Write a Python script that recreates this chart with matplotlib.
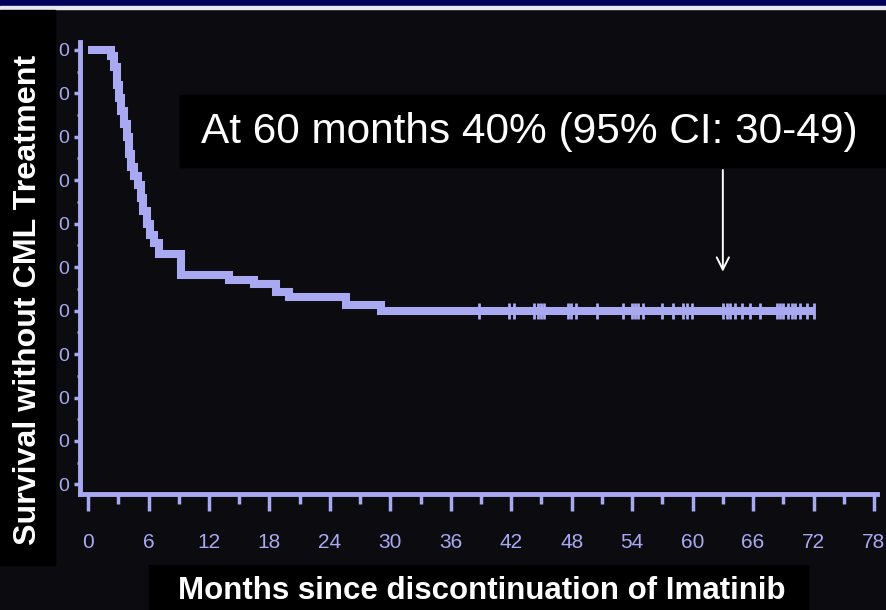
import matplotlib
matplotlib.use("Agg")
import matplotlib.pyplot as plt
from matplotlib.patches import Rectangle

# Kaplan-Meier step curve (months, % surviving without treatment)
months = [0, 2.3, 2.6, 2.9, 3.1, 3.3, 3.6, 3.9, 4.1, 4.3, 4.6, 5.0, 5.3, 5.5,
          5.8, 6.1, 6.5, 7.0, 9.2, 14.0, 16.5, 18.7, 19.9, 25.6, 29.1, 72.0]
survival = [100, 98.5, 96, 92, 89, 86, 83, 80, 76, 73, 71, 69, 66, 63,
            60, 57.5, 55.5, 53, 48.2, 47.0, 46.1, 44.2, 43.1, 41.2, 39.9, 39.9]

# censored observations on the final plateau
censored = [38.8, 41.8, 42.3, 44.3, 44.7, 45.0, 45.3, 47.6, 47.9, 48.4, 50.5,
            53.1, 54.0, 54.3, 54.6, 55.1, 57.0, 58.1, 59.0, 59.4, 59.9, 63.0,
            63.4, 63.7, 64.2, 64.9, 65.7, 66.7, 68.4, 68.7, 69.0, 69.5, 69.9,
            70.2, 70.7, 71.4, 72.0]
plateau = 39.9

x_ticks = list(range(0, 79, 6))
y_ticks = list(range(0, 101, 10))
# the slide's label box crops the y tick labels down to their last digit
y_ticklabels = ["0"] * len(y_ticks)

note = "At 60 months 40% (95% CI: 30-49)"
note_month = 63.0
xlabel = "Months since discontinuation of Imatinib"
ylabel = "Survival without CML Treatment"

BG = "#0b0b10"
LAV = "#a9a9f2"
W, H = 886, 610

fig = plt.figure(figsize=(W / 100, H / 100), dpi=100, facecolor=BG)

def fx(px):
    return px / W

def fy(py):
    return 1 - py / H

ax = fig.add_axes([fx(80), fy(494), fx(877) - fx(80), fy(42) - fy(494)])
ax.set_facecolor(BG)
ax.set_xlim(-0.8, 78.3)
ax.set_ylim(-2.2, 101.8)

ax.step(months, survival, where="post", color=LAV, lw=5.8,
        solid_joinstyle="miter", solid_capstyle="butt", zorder=3)
ax.plot(censored, [plateau] * len(censored), ls="none", marker="|",
        ms=11, mew=2, color=LAV, zorder=4)

for s in ["top", "right"]:
    ax.spines[s].set_visible(False)
for s in ["left", "bottom"]:
    ax.spines[s].set_color(LAV)
    ax.spines[s].set_linewidth(3.5)

font = "Liberation Sans"
ax.set_xticks(x_ticks)
ax.set_xticks([t + 3 for t in x_ticks[:-1]], minor=True)
ax.set_yticks(y_ticks)
ax.set_yticklabels(y_ticklabels)
ax.set_yticks([v + 5 for v in y_ticks[:-1]], minor=True)
ax.tick_params(axis="x", which="major", length=12, width=2.5, color=LAV,
               labelcolor=LAV, labelsize=15, pad=16)
ax.tick_params(axis="x", which="minor", length=7, width=2.5, color=LAV)
ax.tick_params(axis="y", which="major", length=4, width=2.5, color=LAV,
               labelcolor=LAV, labelsize=14, pad=4)
ax.tick_params(axis="y", which="minor", length=2.5, width=2, color=LAV)
for lab in ax.get_xticklabels() + ax.get_yticklabels():
    lab.set_family(font)

# arrow to the 60-month plateau
ax.annotate("", xy=(note_month, 48.3), xytext=(note_month, 73),
            arrowprops=dict(arrowstyle="->", color="white", lw=1.4,
                            mutation_scale=22))

# slide decoration: navy band with white rule on top
fig.add_artist(Rectangle((0, fy(6)), 1, fy(0) - fy(6), transform=fig.transFigure,
                         color="#00005a", zorder=10))
fig.add_artist(Rectangle((0, fy(9)), 1, fy(6) - fy(9), transform=fig.transFigure,
                         color="#e8e8f0", zorder=10))

# black box that holds the y label
fig.add_artist(Rectangle((0, fy(565)), fx(55), fy(10) - fy(565),
                         transform=fig.transFigure, color="black", zorder=10))
fig.text(fx(28), fy(300), ylabel, rotation=90, ha="center", va="center",
         color="white", fontsize=23.2, fontweight="bold", family=font,
         zorder=11)

# black box with x label
fig.add_artist(Rectangle((fx(149), 0), fx(808) - fx(149), fy(565),
                         transform=fig.transFigure, color="black", zorder=10))
fig.text(fx(482), fy(591), xlabel, ha="center", va="center", color="white",
         fontsize=22.5, fontweight="bold", family=font, zorder=11)

# annotation box
fig.add_artist(Rectangle((fx(180), fy(167)), 1 - fx(180), fy(95) - fy(167),
                         transform=fig.transFigure, color="black", zorder=10))
fig.text(fx(529), fy(132), note, ha="center", va="center", color="white",
         fontsize=30.5, family=font, zorder=11)

fig.savefig("out.png", dpi=100, facecolor=BG)
